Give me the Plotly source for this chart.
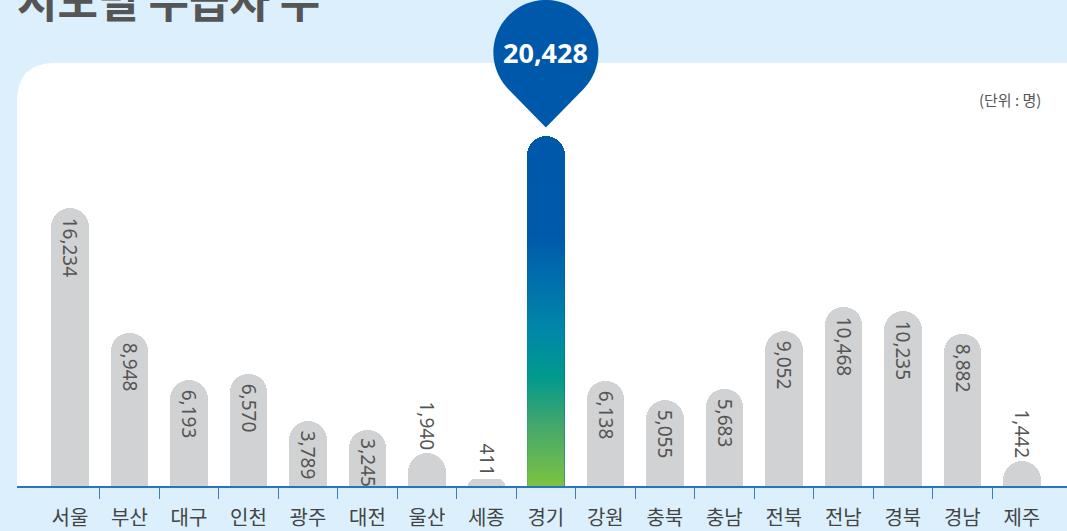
import numpy as np
import plotly.graph_objects as go

regions = ["서울", "부산", "대구", "인천", "광주", "대전", "울산", "세종", "경기",
           "강원", "충북", "충남", "전북", "전남", "경북", "경남", "제주"]
recipients = [16234, 8948, 6193, 6570, 3789, 3245, 1940, 411, 20428,
              6138, 5055, 5683, 9052, 10468, 10235, 8882, 1442]
title_text = "시도별 수급자 수"
unit_text = "(단위 : 명)"

W, H = 1067, 531
L, B, T = 17, 45, 0
Y_MAX = 28400
BAR_W = 0.63
KR = "Noto Sans CJK KR"

xs = list(range(len(regions)))
top_i = int(np.argmax(recipients))
top_v = recipients[top_i]

labels = [f"{v:,}" if i != top_i else "" for i, v in enumerate(recipients)]
positions = ["outside" if v < 2500 else "inside" for v in recipients]
colors = ["#d1d2d4"] * len(recipients)
colors[top_i] = "#0058aa"

fig = go.Figure()
fig.add_trace(go.Bar(
    x=xs, y=recipients, width=BAR_W,
    marker=dict(color=colors, cornerradius="50%", line_width=0),
    text=labels, textposition=positions, textangle=90,
    insidetextanchor="end", constraintext="none",
    textfont=dict(family="Noto Sans", size=19, color="#555555"),
    hoverinfo="skip",
))

# gradient body of the highlighted bar (below the rounded cap)
plot_h = H - B - T
px_per_unit = plot_h / Y_MAX
cap = (BAR_W * (W - L) / 17.65) / 2 / px_per_unit
body_top = top_v - cap
fig.add_trace(go.Scatter(
    x=[top_i - BAR_W / 2, top_i + BAR_W / 2, top_i + BAR_W / 2, top_i - BAR_W / 2],
    y=[0, 0, body_top, body_top],
    mode="lines", line=dict(width=0), fill="toself",
    fillgradient=dict(type="vertical", start=0, stop=top_v, colorscale=[
        [0.0, "#7dc242"], [0.17, "#45a86a"], [0.31, "#009a8c"],
        [0.44, "#0088a8"], [0.58, "#0070ac"], [0.72, "#0059aa"], [1.0, "#0058aa"],
    ]),
    hoverinfo="skip", showlegend=False,
))

# pin marker above the highlighted bar (pixel offsets, up is positive)
r, tip, dist = 52.5, 9, 75
cy = tip + dist
a = np.arccos(r / dist)
angles = np.linspace(-np.pi / 2 + a, 3 * np.pi / 2 - a, 60)
pts = [(0, tip)] + [(r * np.cos(t), cy + r * np.sin(t)) for t in angles]
pin_path = "M " + " L ".join(f"{px:.2f},{py:.2f}" for px, py in pts) + " Z"

# white panel with rounded top-left corner
rad = 38
panel_top = 63
pt = 1 - panel_top / plot_h
rx = rad / (W - L)
ry = rad / plot_h
panel_path = (f"M 0,0 L 0,{pt - ry} Q 0,{pt} {rx},{pt} L 1.05,{pt} L 1.05,0 Z")

fig.update_layout(
    width=W, height=H,
    margin=dict(l=L, r=0, t=T, b=B, autoexpand=False),
    paper_bgcolor="#dbf0fc",
    plot_bgcolor="rgba(0,0,0,0)",
    showlegend=False,
    bargap=0,
    uniformtext=dict(minsize=19, mode="show"),
    shapes=[
        dict(type="path", xref="paper", yref="paper", path=panel_path,
             fillcolor="white", line_width=0, layer="below"),
        dict(type="path", xref="x", yref="y", xsizemode="pixel", ysizemode="pixel",
             xanchor=top_i, yanchor=top_v, path=pin_path,
             fillcolor="#0058aa", line_width=0, layer="above"),
    ],
    annotations=[
        dict(x=top_i, y=top_v, xref="x", yref="y", text=f"<b>{top_v:,}</b>",
             showarrow=False, yshift=cy, xanchor="center", yanchor="middle",
             font=dict(family="Noto Sans", size=27, color="white")),
        dict(x=0, y=1, xref="paper", yref="paper", text=f"<b>{title_text}</b>",
             showarrow=False, xanchor="left", yanchor="middle", yshift=1, xshift=-2,
             font=dict(family=KR, size=44, color="#555555", weight=900)),
        dict(x=1, y=1 - 100 / plot_h, xref="paper", yref="paper", text=unit_text,
             showarrow=False, xanchor="right", yanchor="middle", xshift=-24,
             font=dict(family=KR, size=15, color="#555555")),
    ],
    xaxis=dict(
        range=[-0.89, 16.76], tickmode="array", tickvals=xs, ticktext=regions,
        ticks="outside", ticklen=13, tickcolor="rgba(0,0,0,0)",
        minor=dict(tickvals=[i + 0.5 for i in xs[:-1]], ticks="outside",
                   ticklen=11, tickwidth=1, tickcolor="#3a7fc4"),
        showline=True, linecolor="#2a73c2", linewidth=1.5,
        showgrid=False, zeroline=False, fixedrange=True, automargin=False,
        tickfont=dict(family=KR, size=20, color="#444444"),
    ),
    yaxis=dict(range=[0, Y_MAX], visible=False, fixedrange=True, automargin=False),
)

fig.write_html(
    "out.html",
    config={"displayModeBar": False},
    post_script="document.body.style.margin='0';document.body.style.overflow='hidden';",
)
